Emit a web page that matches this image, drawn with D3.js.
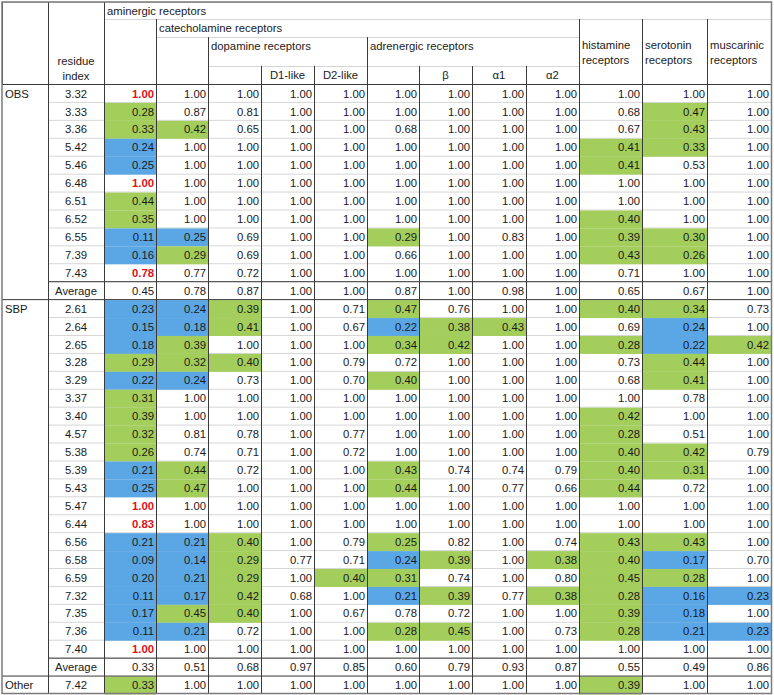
<!DOCTYPE html>
<html>
<head>
<meta charset="utf-8">
<script src="https://cdn.jsdelivr.net/npm/d3@7"></script>
<style>
  body { margin: 0; background: #fff; }
  svg text { font-family: "Liberation Sans", Arial, sans-serif; font-size: 11.3px; fill: #1a1a1a; }
</style>
</head>
<body>
<svg id="chart" width="774" height="695"></svg>
<script>
// columns of values, left to right
var columns = ["aminergic", "catecholamine", "dopamine", "D1", "D2", "adrenergic",
               "beta", "alpha1", "alpha2", "histamine", "serotonin", "muscarinic"];

// marks: g = green cell, b = blue cell, r = red bold text, . = plain
var obsIndex = ["3.32", "3.33", "3.36", "5.42", "5.46", "6.48", "6.51", "6.52", "6.55", "7.39", "7.43"];
var obsValues = [
  [1.00, 1.00, 1.00, 1.00, 1.00, 1.00, 1.00, 1.00, 1.00, 1.00, 1.00, 1.00],
  [0.28, 0.87, 0.81, 1.00, 1.00, 1.00, 1.00, 1.00, 1.00, 0.68, 0.47, 1.00],
  [0.33, 0.42, 0.65, 1.00, 1.00, 0.68, 1.00, 1.00, 1.00, 0.67, 0.43, 1.00],
  [0.24, 1.00, 1.00, 1.00, 1.00, 1.00, 1.00, 1.00, 1.00, 0.41, 0.33, 1.00],
  [0.25, 1.00, 1.00, 1.00, 1.00, 1.00, 1.00, 1.00, 1.00, 0.41, 0.53, 1.00],
  [1.00, 1.00, 1.00, 1.00, 1.00, 1.00, 1.00, 1.00, 1.00, 1.00, 1.00, 1.00],
  [0.44, 1.00, 1.00, 1.00, 1.00, 1.00, 1.00, 1.00, 1.00, 1.00, 1.00, 1.00],
  [0.35, 1.00, 1.00, 1.00, 1.00, 1.00, 1.00, 1.00, 1.00, 0.40, 1.00, 1.00],
  [0.11, 0.25, 0.69, 1.00, 1.00, 0.29, 1.00, 0.83, 1.00, 0.39, 0.30, 1.00],
  [0.16, 0.29, 0.69, 1.00, 1.00, 0.66, 1.00, 1.00, 1.00, 0.43, 0.26, 1.00],
  [0.78, 0.77, 0.72, 1.00, 1.00, 1.00, 1.00, 1.00, 1.00, 0.71, 1.00, 1.00]
];
var obsMarks = ["r...........", "g.........g.", "gg........g.", "b........gg.", "b........g..",
                "r...........", "g...........", "g........g..", "bb...g...gg.", "bg.......gg.",
                "r..........."];
var obsAverage = [0.45, 0.78, 0.87, 1.00, 1.00, 0.87, 1.00, 0.98, 1.00, 0.65, 0.67, 1.00];

var sbpIndex = ["2.61", "2.64", "2.65", "3.28", "3.29", "3.37", "3.40", "4.57", "5.38", "5.39",
                "5.43", "5.47", "6.44", "6.56", "6.58", "6.59", "7.32", "7.35", "7.36", "7.40"];
var sbpValues = [
  [0.23, 0.24, 0.39, 1.00, 0.71, 0.47, 0.76, 1.00, 1.00, 0.40, 0.34, 0.73],
  [0.15, 0.18, 0.41, 1.00, 0.67, 0.22, 0.38, 0.43, 1.00, 0.69, 0.24, 1.00],
  [0.18, 0.39, 1.00, 1.00, 1.00, 0.34, 0.42, 1.00, 1.00, 0.28, 0.22, 0.42],
  [0.29, 0.32, 0.40, 1.00, 0.79, 0.72, 1.00, 1.00, 1.00, 0.73, 0.44, 1.00],
  [0.22, 0.24, 0.73, 1.00, 0.70, 0.40, 1.00, 1.00, 1.00, 0.68, 0.41, 1.00],
  [0.31, 1.00, 1.00, 1.00, 1.00, 1.00, 1.00, 1.00, 1.00, 1.00, 0.78, 1.00],
  [0.39, 1.00, 1.00, 1.00, 1.00, 1.00, 1.00, 1.00, 1.00, 0.42, 1.00, 1.00],
  [0.32, 0.81, 0.78, 1.00, 0.77, 1.00, 1.00, 1.00, 1.00, 0.28, 0.51, 1.00],
  [0.26, 0.74, 0.71, 1.00, 0.72, 1.00, 1.00, 1.00, 1.00, 0.40, 0.42, 0.79],
  [0.21, 0.44, 0.72, 1.00, 1.00, 0.43, 0.74, 0.74, 0.79, 0.40, 0.31, 1.00],
  [0.25, 0.47, 1.00, 1.00, 1.00, 0.44, 1.00, 0.77, 0.66, 0.44, 0.72, 1.00],
  [1.00, 1.00, 1.00, 1.00, 1.00, 1.00, 1.00, 1.00, 1.00, 1.00, 1.00, 1.00],
  [0.83, 1.00, 1.00, 1.00, 1.00, 1.00, 1.00, 1.00, 1.00, 1.00, 1.00, 1.00],
  [0.21, 0.21, 0.40, 1.00, 0.79, 0.25, 0.82, 1.00, 0.74, 0.43, 0.43, 1.00],
  [0.09, 0.14, 0.29, 0.77, 0.71, 0.24, 0.39, 1.00, 0.38, 0.40, 0.17, 0.70],
  [0.20, 0.21, 0.29, 1.00, 0.40, 0.31, 0.74, 1.00, 0.80, 0.45, 0.28, 1.00],
  [0.11, 0.17, 0.42, 0.68, 1.00, 0.21, 0.39, 0.77, 0.38, 0.28, 0.16, 0.23],
  [0.17, 0.45, 0.40, 1.00, 0.67, 0.78, 0.72, 1.00, 1.00, 0.39, 0.18, 1.00],
  [0.11, 0.21, 0.72, 1.00, 1.00, 0.28, 0.45, 1.00, 0.73, 0.28, 0.21, 0.23],
  [1.00, 1.00, 1.00, 1.00, 1.00, 1.00, 1.00, 1.00, 1.00, 1.00, 1.00, 1.00]
];
var sbpMarks = ["bbg..g...gg.", "bbg..bgg..b.", "bg...gg..gbg", "ggg.......g.", "bb...g....g.",
                "g...........", "g........g..", "g........g..", "g........gg.", "bg...g...gg.",
                "bg...g...g..", "r...........", "r...........", "bbg..g...gg.", "bbg..bg.ggb.",
                "bbg.gg...gg.", "bbg..bg.ggbb", "bgg......gb.", "bb...gg..gbb", "r..........."];
var sbpAverage = [0.33, 0.51, 0.68, 0.97, 0.85, 0.60, 0.79, 0.93, 0.87, 0.55, 0.49, 0.86];

var otherIndex = ["7.42"];
var otherValues = [[0.33, 1.00, 1.00, 1.00, 1.00, 1.00, 1.00, 1.00, 1.00, 0.39, 1.00, 1.00]];
var otherMarks = ["g........g.."];

// header labels: [first col, last col + 1, first level, last level + 1, lines]
var headerCells = [
  [0, 1, 0, 4, []],
  [1, 2, 0, 4, ["residue", "index"]],
  [2, 14, 0, 1, ["aminergic receptors"]],
  [2, 3, 1, 4, []],
  [3, 11, 1, 2, ["catecholamine receptors"]],
  [11, 12, 1, 4, ["histamine", "receptors"]],
  [12, 13, 1, 4, ["serotonin", "receptors"]],
  [13, 14, 1, 4, ["muscarinic", "receptors"]],
  [3, 4, 2, 4, []],
  [4, 7, 2, 3, ["dopamine receptors"]],
  [7, 11, 2, 3, ["adrenergic receptors"]],
  [4, 5, 3, 4, []],
  [5, 6, 3, 4, ["D1-like"]],
  [6, 7, 3, 4, ["D2-like"]],
  [7, 8, 3, 4, []],
  [8, 9, 3, 4, ["\u03b2"]],
  [9, 10, 3, 4, ["\u03b11"]],
  [10, 11, 3, 4, ["\u03b12"]]
];

// ---- build row table
var rows = [];
function addGroup(name, index, values, marks, average) {
  index.forEach(function(lab, i) {
    rows.push({ group: i === 0 ? name : "", label: lab, values: values[i], marks: marks[i], avg: false, first: i === 0 });
  });
  if (average)
    rows.push({ group: "", label: "Average", values: average, marks: "............", avg: true, first: false });
}
addGroup("OBS", obsIndex, obsValues, obsMarks, obsAverage);
addGroup("SBP", sbpIndex, sbpValues, sbpMarks, sbpAverage);
addGroup("Other", otherIndex, otherValues, otherMarks, null);

var svg = d3.select("#chart");
var dark = "#3a3a3a", light = "#d6d6d6";

// column edges (group, residue, then value columns)
var edges = [2, 48, 104, 156, 208, 261, 314, 367, 419, 472, 526, 579, 642, 707, 771];
var colKeys = ["group", "residue"].concat(columns);
var xLeft = d3.scaleOrdinal().domain(colKeys).range(edges.slice(0, -1));
var xRight = d3.scaleOrdinal().domain(colKeys).range(edges.slice(1));

var y = d3.scaleBand().domain(d3.range(rows.length)).range([84, 693.5]).padding(0);
var levelY = d3.scaleOrdinal().domain([0, 1, 2, 3, 4]).range([2, 19, 37, 66, 84]);

var fill = d3.scaleOrdinal().domain(["g", "b"]).range(["#a4ce5c", "#5ba7e6"]);
var fmt = d3.format(".2f");

// light row lines
svg.append("g").selectAll("line")
  .data(rows.filter(function(d) { return !d.first; }))
  .enter().append("line")
  .attr("x1", edges[1]).attr("x2", edges[14])
  .attr("y1", function(d) { return y(rows.indexOf(d)) + 0.5; })
  .attr("y2", function(d) { return y(rows.indexOf(d)) + 0.5; })
  .attr("stroke", light);

// coloured cells
var cells = [];
rows.forEach(function(r, i) {
  r.values.forEach(function(v, j) {
    cells.push({ row: i, col: columns[j], v: v, m: r.marks[j] });
  });
});
svg.append("g").selectAll("rect")
  .data(cells.filter(function(d) { return d.m === "g" || d.m === "b"; }))
  .enter().append("rect")
  .attr("x", function(d) { return xLeft(d.col); })
  .attr("y", function(d) { return y(d.row) + 1; })
  .attr("width", function(d) { return xRight(d.col) - xLeft(d.col); })
  .attr("height", y.bandwidth())
  .attr("fill", function(d) { return fill(d.m); });

// header
var hg = svg.append("g");
headerCells.forEach(function(c) {
  var x0 = edges[c[0]], x1 = edges[c[1]], y0 = levelY(c[2]), y1 = levelY(c[3]);
  hg.append("line").attr("x1", x0).attr("x2", x1).attr("y1", y0 + 0.5).attr("y2", y0 + 0.5).attr("stroke", light);
  hg.append("line").attr("x1", x0 + 0.5).attr("x2", x0 + 0.5).attr("y1", y0).attr("y2", y1).attr("stroke", dark);
  hg.append("line").attr("x1", x1 + 0.5).attr("x2", x1 + 0.5).attr("y1", y0).attr("y2", y1).attr("stroke", dark);
  var lines = c[4];
  if (!lines.length) return;
  var centred = (c[1] - c[0] === 1 && c[0] < 11);
  var base;
  if (c[0] === 1) base = y1 - 4 - (lines.length - 1) * 15.5;
  else if (lines.length === 2) base = (y0 + y1) / 2 - 3;
  else base = y0 + 13.2;
  lines.forEach(function(t, k) {
    hg.append("text")
      .attr("x", centred ? (x0 + x1) / 2 : x0 + 3)
      .attr("y", base + k * 15.5)
      .attr("text-anchor", centred ? "middle" : "start")
      .text(t);
  });
});

// vertical column lines through the body
svg.append("g").selectAll("line")
  .data(edges.slice(1, -1))
  .enter().append("line")
  .attr("x1", function(d) { return d + 0.5; }).attr("x2", function(d) { return d + 0.5; })
  .attr("y1", 84).attr("y2", 693.5)
  .attr("stroke", dark);

// dark horizontal lines: header bottom, around average rows
var hl = svg.append("g");
hl.append("line").attr("x1", 2).attr("x2", 771).attr("y1", 84.5).attr("y2", 84.5).attr("stroke", dark);
rows.forEach(function(r, i) {
  if (!r.avg) return;
  hl.append("line").attr("x1", edges[1]).attr("x2", 771)
    .attr("y1", y(i) + 0.5).attr("y2", y(i) + 0.5).attr("stroke", dark);
  hl.append("line").attr("x1", 2).attr("x2", 771)
    .attr("y1", y(i) + y.bandwidth() + 0.5).attr("y2", y(i) + y.bandwidth() + 0.5).attr("stroke", dark);
});

// texts
var body = svg.append("g");
rows.forEach(function(r, i) {
  var base = y(i) + 13.6;
  if (r.group)
    body.append("text").attr("x", 5).attr("y", base).text(r.group);
  body.append("text").attr("x", (xLeft("residue") + xRight("residue")) / 2).attr("y", base)
    .attr("text-anchor", "middle").text(r.label);
});
body.selectAll("text.val")
  .data(cells)
  .enter().append("text")
  .attr("class", "val")
  .attr("x", function(d) { return xRight(d.col) - 2; })
  .attr("y", function(d) { return y(d.row) + 13.6; })
  .attr("text-anchor", "end")
  .style("fill", function(d) { return d.m === "r" ? "#e0101a" : null; })
  .style("font-weight", function(d) { return d.m === "r" ? "bold" : null; })
  .text(function(d) { return fmt(d.v); });

// outer border
svg.append("rect").attr("x", 2).attr("y", 2).attr("width", 769.5).attr("height", 691.5)
  .attr("fill", "none").attr("stroke", "#7a7a7a").attr("stroke-width", 1.5);
</script>
</body>
</html>
